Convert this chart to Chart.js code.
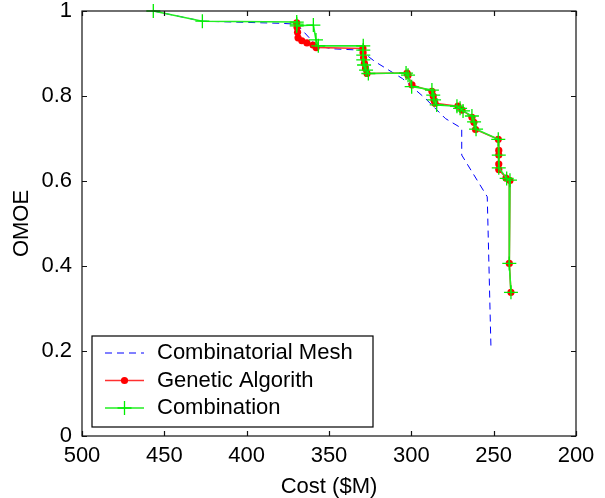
<!DOCTYPE html>
<html>
<head>
<meta charset="utf-8">
<script src="https://cdn.jsdelivr.net/npm/chart.js@4"></script>
<style>
  body { margin: 0; background: #fff; }
  #wrap { width: 605px; height: 498px; position: relative; }
</style>
</head>
<body>
<div id="wrap"><canvas id="grafico"></canvas></div>
<script>
// valores
var meshCost = [456.7, 426.9, 379.0, 369.6, 357.5, 347.6, 331.2, 322.1, 305.4, 291.7, 279.3, 269.4, 269.4, 253.9, 251.6];
var meshOmoe = [1.000, 0.976, 0.971, 0.969, 0.918, 0.911, 0.908, 0.881, 0.841, 0.795, 0.747, 0.724, 0.661, 0.563, 0.202];

var gaCost = [369.6, 369.4, 369.1, 368.8, 366.5, 363.4, 359.7, 357.8, 329.4, 329.3, 329.0, 328.5, 327.8, 326.9,
              302.6, 302.0, 299.6, 287.5, 286.7, 286.2, 285.6, 271.7, 269.2, 263.2, 262.0, 261.0,
              247.2, 246.9, 246.9, 246.9, 246.9, 242.5, 240.1, 240.5, 239.5];
var gaOmoe = [0.972, 0.962, 0.950, 0.937, 0.930, 0.925, 0.920, 0.914, 0.912, 0.902, 0.890, 0.877, 0.865, 0.853,
              0.854, 0.849, 0.826, 0.811, 0.800, 0.790, 0.783, 0.776, 0.767, 0.750, 0.738, 0.721,
              0.698, 0.672, 0.661, 0.640, 0.627, 0.607, 0.601, 0.406, 0.338];

var combCost = [456.7, 426.9, 369.6, 369.6, 369.6, 359.5, 357.9, 356.5, 329.2, 329.2, 329.2, 329.2, 328.7, 327.5, 326.1,
                303.2, 302.0, 299.8, 287.5, 286.7, 286.2, 284.6, 272.3, 270.4, 268.6, 263.2, 261.9, 260.7,
                247.2, 246.9, 246.9, 242.1, 240.1, 240.5, 239.5];
var combOmoe = [1.000, 0.976, 0.974, 0.969, 0.965, 0.967, 0.932, 0.918, 0.918, 0.908, 0.896, 0.885, 0.873, 0.861, 0.853,
                0.854, 0.849, 0.822, 0.814, 0.802, 0.791, 0.779, 0.776, 0.771, 0.765, 0.753, 0.739, 0.722,
                0.698, 0.661, 0.631, 0.606, 0.602, 0.406, 0.338];

var xTicks = [500, 450, 400, 350, 300, 250, 200];
var yTicks = [0, 0.2, 0.4, 0.6, 0.8, 1];
var yTickLabels = ['0', '0.2', '0.4', '0.6', '0.8', '1'];

var fonte = '"Liberation Sans", Arial, sans-serif';

function pontos(xs, ys) {
    var out = [];
    for (var i = 0; i < xs.length; i++) out.push({ x: xs[i], y: ys[i] });
    return out;
}

// caixa, ticks internos e legenda
var molduraPlugin = {
    id: 'moldura',
    afterDraw: function(chart) {
        var ctx = chart.ctx;
        var a = chart.chartArea;
        var sx = chart.scales.x, sy = chart.scales.y;
        ctx.save();
        ctx.strokeStyle = '#111';
        ctx.lineWidth = 1.2;
        ctx.strokeRect(a.left, a.top, a.right - a.left, a.bottom - a.top);
        ctx.beginPath();
        xTicks.forEach(function(v) {
            var px = Math.round(sx.getPixelForValue(v)) + 0.5;
            ctx.moveTo(px, a.bottom); ctx.lineTo(px, a.bottom - 5);
            ctx.moveTo(px, a.top); ctx.lineTo(px, a.top + 5);
        });
        yTicks.forEach(function(v) {
            var py = Math.round(sy.getPixelForValue(v)) + 0.5;
            ctx.moveTo(a.left, py); ctx.lineTo(a.left + 5, py);
            ctx.moveTo(a.right, py); ctx.lineTo(a.right - 5, py);
        });
        ctx.stroke();

        // legenda
        var bx = 92, by = 336, bw = 281, bh = 91;
        ctx.fillStyle = '#fff';
        ctx.fillRect(bx, by, bw, bh);
        ctx.strokeStyle = '#000';
        ctx.lineWidth = 1.2;
        ctx.strokeRect(bx, by, bw, bh);
        var ordem = [0, 1, 2];
        ordem.forEach(function(i, k) {
            var ds = chart.data.datasets[i];
            var cy = 353 + k * 27.5;
            ctx.save();
            ctx.strokeStyle = ds.borderColor;
            ctx.lineWidth = ds.borderWidth;
            ctx.setLineDash(ds.borderDash || []);
            ctx.beginPath();
            ctx.moveTo(105, cy); ctx.lineTo(144, cy);
            ctx.stroke();
            ctx.setLineDash([]);
            if (ds.pointStyle === 'circle' && ds.pointRadius > 0) {
                ctx.fillStyle = ds.pointBackgroundColor;
                ctx.beginPath(); ctx.arc(124.5, cy, ds.pointRadius, 0, Math.PI * 2); ctx.fill();
            } else if (ds.pointStyle === 'cross') {
                ctx.strokeStyle = ds.pointBorderColor;
                ctx.lineWidth = ds.pointBorderWidth;
                ctx.beginPath();
                ctx.moveTo(124.5 - ds.pointRadius, cy); ctx.lineTo(124.5 + ds.pointRadius, cy);
                ctx.moveTo(124.5, cy - ds.pointRadius); ctx.lineTo(124.5, cy + ds.pointRadius);
                ctx.stroke();
            }
            ctx.restore();
            ctx.fillStyle = '#000';
            ctx.font = '22px ' + fonte;
            ctx.textBaseline = 'middle';
            ctx.fillText(ds.label, 157, cy);
        });
        ctx.restore();
    }
};

var ctx = document.getElementById('grafico').getContext('2d');
var grafico = new Chart(ctx, {
    type: 'scatter',
    data: {
        datasets: [{
            label: 'Combinatorial Mesh',
            data: pontos(meshCost, meshOmoe),
            showLine: true,
            borderColor: '#0000ff',
            borderWidth: 1,
            borderDash: [7, 5],
            pointRadius: 0,
            pointStyle: false,
            order: 3,
            clip: 10
        }, {
            label: 'Genetic Algorith',
            data: pontos(gaCost, gaOmoe),
            showLine: true,
            borderColor: '#ff3030',
            borderWidth: 1.5,
            pointStyle: 'circle',
            pointRadius: 3.6,
            pointBackgroundColor: '#ff0000',
            pointBorderWidth: 0,
            order: 2,
            clip: 10
        }, {
            label: 'Combination',
            data: pontos(combCost, combOmoe),
            showLine: true,
            borderColor: '#22ee22',
            borderWidth: 1.6,
            pointStyle: 'cross',
            pointRadius: 7,
            pointBorderColor: '#00ee00',
            pointBorderWidth: 1.3,
            order: 1,
            clip: 10
        }]
    },
    options: {
        responsive: true,
        maintainAspectRatio: false,
        animation: false,
        events: [],
        layout: { padding: { left: 0, top: 11, right: 29, bottom: -2 } },
        plugins: { legend: { display: false }, tooltip: { enabled: false } },
        scales: {
            x: {
                type: 'linear',
                reverse: true,
                min: 200,
                max: 500,
                afterBuildTicks: function(s) { s.ticks = xTicks.map(function(v) { return { value: v }; }); },
                afterFit: function(s) { s.height = 64; s.paddingLeft = 0; s.paddingRight = 0; },
                grid: { display: false, drawTicks: false },
                border: { display: false },
                ticks: { color: '#000', font: { size: 22, family: fonte }, padding: 7, maxRotation: 0 },
                title: { display: true, text: 'Cost ($M)', color: '#000', font: { size: 22, family: fonte }, padding: { top: 0, bottom: 0 } }
            },
            y: {
                type: 'linear',
                min: 0,
                max: 1,
                afterBuildTicks: function(s) { s.ticks = yTicks.map(function(v) { return { value: v }; }); },
                afterFit: function(s) { s.width = 82; s.paddingTop = 0; s.paddingBottom = 0; },
                grid: { display: false, drawTicks: false },
                border: { display: false },
                ticks: {
                    color: '#000', font: { size: 22, family: fonte }, padding: 10,
                    callback: function(v) { return yTickLabels[yTicks.indexOf(v)]; }
                },
                title: { display: true, text: 'OMOE', color: '#000', font: { size: 22, family: fonte }, padding: { top: 9, bottom: 0 } }
            }
        }
    },
    plugins: [molduraPlugin]
});
</script>
</body>
</html>
